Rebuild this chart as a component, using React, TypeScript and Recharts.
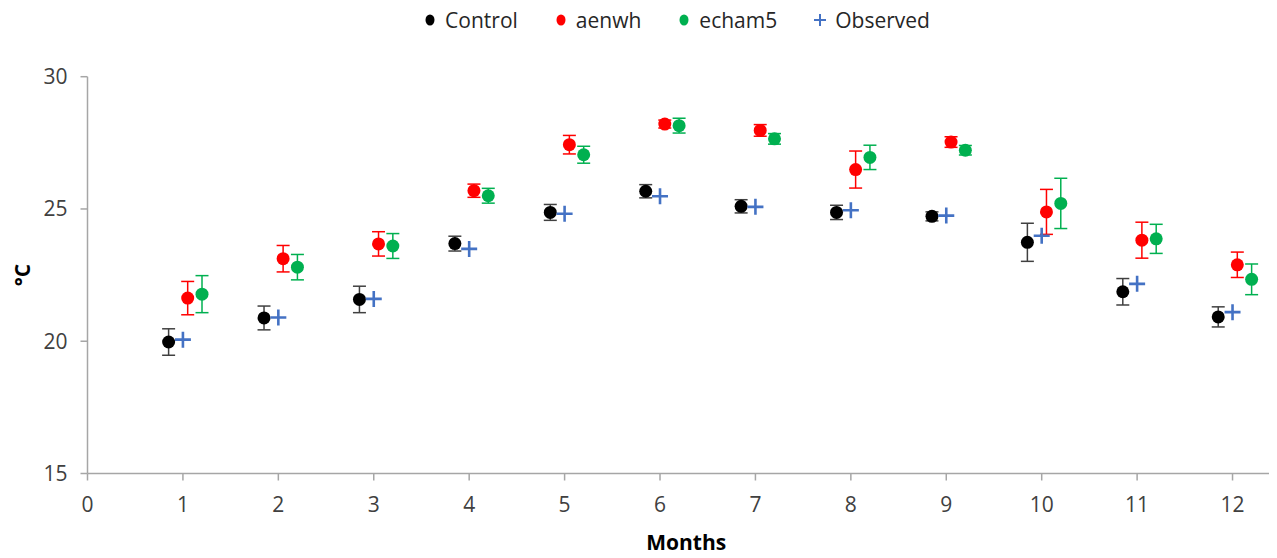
import React from 'react';
import { ScatterChart, Scatter, XAxis, YAxis, ErrorBar, Legend } from 'recharts';

const months = [1, 2, 3, 4, 5, 6, 7, 8, 9, 10, 11, 12];
const control = [19.97, 20.88, 21.58, 23.69, 24.87, 25.67, 25.1, 24.87, 24.72, 23.74, 21.87, 20.92];
const controlErr = [0.5, 0.45, 0.5, 0.28, 0.3, 0.25, 0.25, 0.27, 0.17, 0.72, 0.5, 0.38];
const aenwh = [21.63, 23.12, 23.68, 25.69, 27.43, 28.21, 27.97, 26.49, 27.53, 24.89, 23.82, 22.89];
const aenwhErr = [0.63, 0.5, 0.46, 0.25, 0.35, 0.15, 0.22, 0.7, 0.2, 0.85, 0.68, 0.48];
const echam5 = [21.78, 22.8, 23.6, 25.5, 27.05, 28.15, 27.65, 26.95, 27.22, 25.21, 23.87, 22.34];
const echam5Err = [0.7, 0.48, 0.47, 0.28, 0.32, 0.28, 0.2, 0.46, 0.18, 0.95, 0.55, 0.58];
const observed = [20.06, 20.9, 21.6, 23.49, 24.82, 25.48, 25.08, 24.95, 24.75, 23.99, 22.17, 21.1];

const xTicks = [0, 1, 2, 3, 4, 5, 6, 7, 8, 9, 10, 11, 12];
const yTicks = [15, 20, 25, 30];

// x offsets of each series around the month value (as in the source spreadsheet)
const controlShift = -0.15;
const aenwhShift = 0.05;
const echam5Shift = 0.2;
const observedShift = 0;

const build = (vals: number[], errs: number[] | null, shift: number) =>
  months.map((m, i) => ({ x: +(m + shift).toFixed(2), y: vals[i], err: errs ? errs[i] : 0 }));

const controlData = build(control, controlErr, controlShift);
const aenwhData = build(aenwh, aenwhErr, aenwhShift);
const echam5Data = build(echam5, echam5Err, echam5Shift);
const observedData = build(observed, null, observedShift);

const FONT = '"Open Sans", "Liberation Sans", sans-serif';
const AXIS = '#a6a6a6';
const TEXT = '#404040';
const RED = '#ff0000';
const GREEN = '#00b050';
const BLUE = '#4472c4';

const dot = (color: string) => (props: any) =>
  props.cx == null ? <g /> : <circle cx={props.cx} cy={props.cy} r={6.5} fill={color} />;

const plus = (props: any) => {
  if (props.cx == null) return <g />;
  const { cx, cy } = props;
  return (
    <path
      d={`M${cx - 8},${cy}H${cx + 8}M${cx},${cy - 8}V${cy + 8}`}
      stroke={BLUE}
      strokeWidth={2.6}
      fill="none"
    />
  );
};

const legendItems = [
  { name: 'Control', color: '#000000', kind: 'dot' },
  { name: 'aenwh', color: RED, kind: 'dot' },
  { name: 'echam5', color: GREEN, kind: 'dot' },
  { name: 'Observed', color: BLUE, kind: 'plus' },
];

const renderLegend = () => (
  <div
    style={{
      display: 'flex',
      justifyContent: 'center',
      alignItems: 'center',
      height: 30,
      paddingLeft: 68,
      fontFamily: FONT,
      fontSize: 21,
      color: '#262626',
      boxSizing: 'border-box',
    }}
  >
    {legendItems.map((it, i) => (
      <div key={it.name} style={{ display: 'flex', alignItems: 'center', marginRight: i < legendItems.length - 1 ? 36 : 0 }}>
        <svg width={14} height={16} style={{ display: 'block' }}>
          {it.kind === 'dot' ? (
            <ellipse cx={7} cy={8} rx={4.5} ry={5.5} fill={it.color} />
          ) : (
            <path d="M1,8H13M7,2V14" stroke={it.color} strokeWidth={2} fill="none" />
          )}
        </svg>
        <span style={{ marginLeft: 8, lineHeight: '30px' }}>{it.name}</span>
      </div>
    ))}
  </div>
);

const YLabel = (props: any) => {
  const vb = props.viewBox;
  const x = vb.x + 14;
  const y = vb.y + vb.height / 2;
  return (
    <text x={x} y={y} transform={`rotate(-90, ${x}, ${y})`} textAnchor="middle" dominantBaseline="central"
      fontFamily={FONT} fontSize={21} fontWeight={700} fill="#000">
      °C
    </text>
  );
};

const XLabel = (props: any) => {
  const vb = props.viewBox;
  const x = vb.x + vb.width / 2 + 4;
  const y = vb.y + 76.5;
  return (
    <text x={x} y={y} textAnchor="middle" fontFamily={FONT} fontSize={21} fontWeight={700} fill="#000">
      Months
    </text>
  );
};

export default function App() {
  return (
    <div style={{ width: 1269, height: 550, fontFamily: FONT }}>
      <ScatterChart width={1269} height={550} margin={{ top: 38.7, right: 0, bottom: 0, left: 0 }}>
        <Legend verticalAlign="top" align="center" height={30} wrapperStyle={{ top: -3, left: 0, width: 1269 }} content={renderLegend} />
        <XAxis
          type="number"
          dataKey="x"
          domain={[0, 12.466]}
          ticks={xTicks}
          interval={0}
          height={84.5}
          stroke={AXIS}
          strokeWidth={1.5}
          tickSize={7}
          tickMargin={17}
          tick={{ fill: TEXT, fontSize: 21, fontFamily: FONT }}
          label={<XLabel />}
          allowDecimals={false}
        />
        <YAxis
          type="number"
          dataKey="y"
          domain={[15, 30]}
          ticks={yTicks}
          interval={0}
          width={79.5}
          stroke={AXIS}
          strokeWidth={1.5}
          tickSize={7}
          tickMargin={13}
          tick={{ fill: TEXT, fontSize: 21, fontFamily: FONT }}
          label={<YLabel />}
        />
        <Scatter name="Control" data={controlData} fill="#000" shape={dot('#000000')} isAnimationActive={false}>
          <ErrorBar dataKey="err" direction="y" width={6.5} stroke="#404040" strokeWidth={1.5} isAnimationActive={false} />
        </Scatter>
        <Scatter name="aenwh" data={aenwhData} fill={RED} shape={dot(RED)} isAnimationActive={false}>
          <ErrorBar dataKey="err" direction="y" width={6.5} stroke={RED} strokeWidth={1.5} isAnimationActive={false} />
        </Scatter>
        <Scatter name="echam5" data={echam5Data} fill={GREEN} shape={dot(GREEN)} isAnimationActive={false}>
          <ErrorBar dataKey="err" direction="y" width={6.5} stroke={GREEN} strokeWidth={1.5} isAnimationActive={false} />
        </Scatter>
        <Scatter name="Observed" data={observedData} fill={BLUE} shape={plus} isAnimationActive={false} />
      </ScatterChart>
    </div>
  );
}
